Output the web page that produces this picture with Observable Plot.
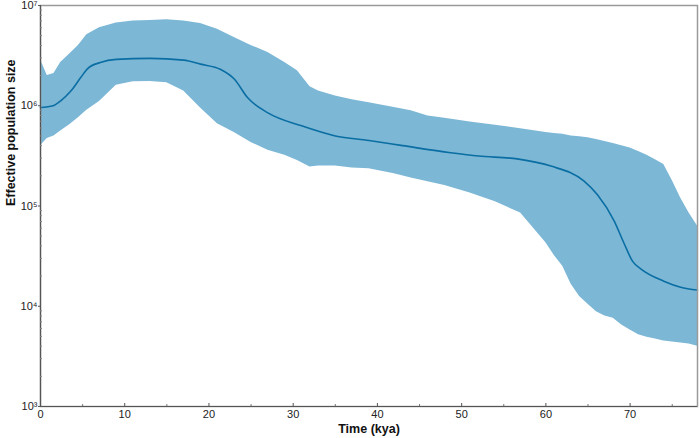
<!DOCTYPE html>
<html>
<head>
<meta charset="utf-8">
<script src="https://cdn.jsdelivr.net/npm/d3@7"></script>
<script src="https://cdn.jsdelivr.net/npm/@observablehq/plot@0.6"></script>
<style>
  html, body { margin: 0; padding: 0; background: #fff; }
</style>
</head>
<body>
<div id="chart"></div>
<script>
// Band (95% HPD) sampled at common times (kya)
const bandTime = [0,0.8,1.6,2.4,3.5,4.5,5.5,7,9,11,13,15,17,19,21,23,25,27,29,30.5,32,33,35,37,39,42,44,46,48,51,54,57,60,61,62,63,64,65,66,67,68,69,70,71,72,73,74,75,76,77,78];
const bandUpper = [2.9e6,2.0e6,2.1e6,2.7e6,3.3e6,4.0e6,5.1e6,6.0e6,6.7e6,7.0e6,7.1e6,7.2e6,7.0e6,6.6e6,5.8e6,4.8e6,4.0e6,3.4e6,2.7e6,2.24e6,1.55e6,1.4e6,1.25e6,1.15e6,1.07e6,9.6e5,8.9e5,7.9e5,7.5e5,6.9e5,6.4e5,5.9e5,5.4e5,5.3e5,5.2e5,5.0e5,4.9e5,4.8e5,4.6e5,4.4e5,4.2e5,4.0e5,3.8e5,3.5e5,3.2e5,2.9e5,2.6e5,1.8e5,1.2e5,8.5e4,6.3e4];
const bandLower = [4.0e5,4.7e5,5.0e5,5.6e5,6.5e5,7.6e5,9.0e5,1.1e6,1.6e6,1.74e6,1.75e6,1.7e6,1.4e6,9.5e5,6.6e5,5.4e5,4.3e5,3.6e5,3.2e5,2.85e5,2.45e5,2.5e5,2.5e5,2.4e5,2.35e5,2.1e5,1.9e5,1.75e5,1.6e5,1.35e5,1.1e5,8.5e4,4.3e4,3.2e4,2.5e4,1.66e4,1.25e4,1.05e4,8.8e3,8.0e3,7.6e3,6.5e3,5.8e3,5.2e3,4.9e3,4.7e3,4.5e3,4.4e3,4.3e3,4.2e3,4.0e3];

// Median line
const medTime = [0,1.5,2.4,3.6,4.75,5.6,7.1,9,13,17,19,21.4,23,24.6,27,31,35,39,43,48.7,52,56.6,60.6,64.5,66.1,68.1,69.3,70.3,71.3,74,76,78];
const medValue = [9.6e5,1.0e6,1.12e6,1.4e6,1.9e6,2.35e6,2.7e6,2.9e6,2.97e6,2.85e6,2.6e6,2.3e6,1.85e6,1.2e6,8.5e5,6.3e5,5.0e5,4.5e5,4.0e5,3.4e5,3.15e5,2.95e5,2.5e5,1.78e5,1.3e5,7.1e4,4.2e4,2.8e4,2.35e4,1.78e4,1.55e4,1.45e4];

// Axis ticks
const xMajor = [0,10,20,30,40,50,60,70];
const xMinor = [5,15,25,35,45,55,65,75];
const yMajor = [1e3,1e4,1e5,1e6,1e7];
const yMinor = [];
for (const p of [3,4,5,6]) for (const m of [2,3,4,5,6,7,8,9]) yMinor.push(m * Math.pow(10, p));

const sup = {"0":"⁰","1":"¹","2":"²","3":"³","4":"⁴","5":"⁵","6":"⁶","7":"⁷","8":"⁸","9":"⁹"};
const fmtPow = d => "10" + String(Math.round(Math.log10(d))).split("").map(c => sup[c]).join("");

const band = bandTime.map((t, i) => ({t, lo: bandLower[i], hi: bandUpper[i]}));
const med = medTime.map((t, i) => ({t, v: medValue[i]}));

const chart = Plot.plot({
  width: 699,
  height: 438,
  marginLeft: 40,
  marginRight: 2,
  marginTop: 5,
  marginBottom: 32,
  style: {fontFamily: "'Liberation Sans', Arial, sans-serif", fontSize: "11px", color: "#222", background: "#fff"},
  x: {domain: [0, 78]},
  y: {type: "log", domain: [1e3, 1e7]},
  marks: [
    Plot.areaY(band, {x: "t", y1: "lo", y2: "hi", fill: "#7db7d6", curve: "linear"}),
    Plot.lineY(med, {x: "t", y: "v", stroke: "#0a6ea3", strokeWidth: 1.6, curve: "monotone-x"}),
    Plot.frame({stroke: "#9a9a9a", strokeWidth: 1.5}),
    Plot.ruleX([0], {stroke: "#555", strokeWidth: 1.2}),
    Plot.ruleY([1e3], {stroke: "#555", strokeWidth: 1.2}),
    Plot.axisX({ticks: xMajor, tickSize: -3, tickPadding: 7, tickFormat: d => String(d), label: null, stroke: "#555", fontSize: 11}),
    Plot.axisX({ticks: xMinor, tickSize: -2, tickFormat: () => "", label: null, stroke: "#777"}),
    Plot.axisY({ticks: yMajor, tickSize: 2, tickPadding: 1, tickFormat: fmtPow, label: null, stroke: "#555", fontSize: 11}),
    Plot.axisY({ticks: yMinor, tickSize: -2, tickFormat: () => "", label: null, stroke: "#888"}),
    Plot.text(["Effective population size"], {frameAnchor: "left", dx: -30, rotate: -90, fontWeight: "bold", fontSize: 12.5, fill: "#111"}),
    Plot.text(["Time (kya)"], {frameAnchor: "bottom", dy: 26, fontWeight: "bold", fontSize: 12.5, fill: "#111"})
  ]
});
document.getElementById("chart").appendChild(chart);
</script>
</body>
</html>
